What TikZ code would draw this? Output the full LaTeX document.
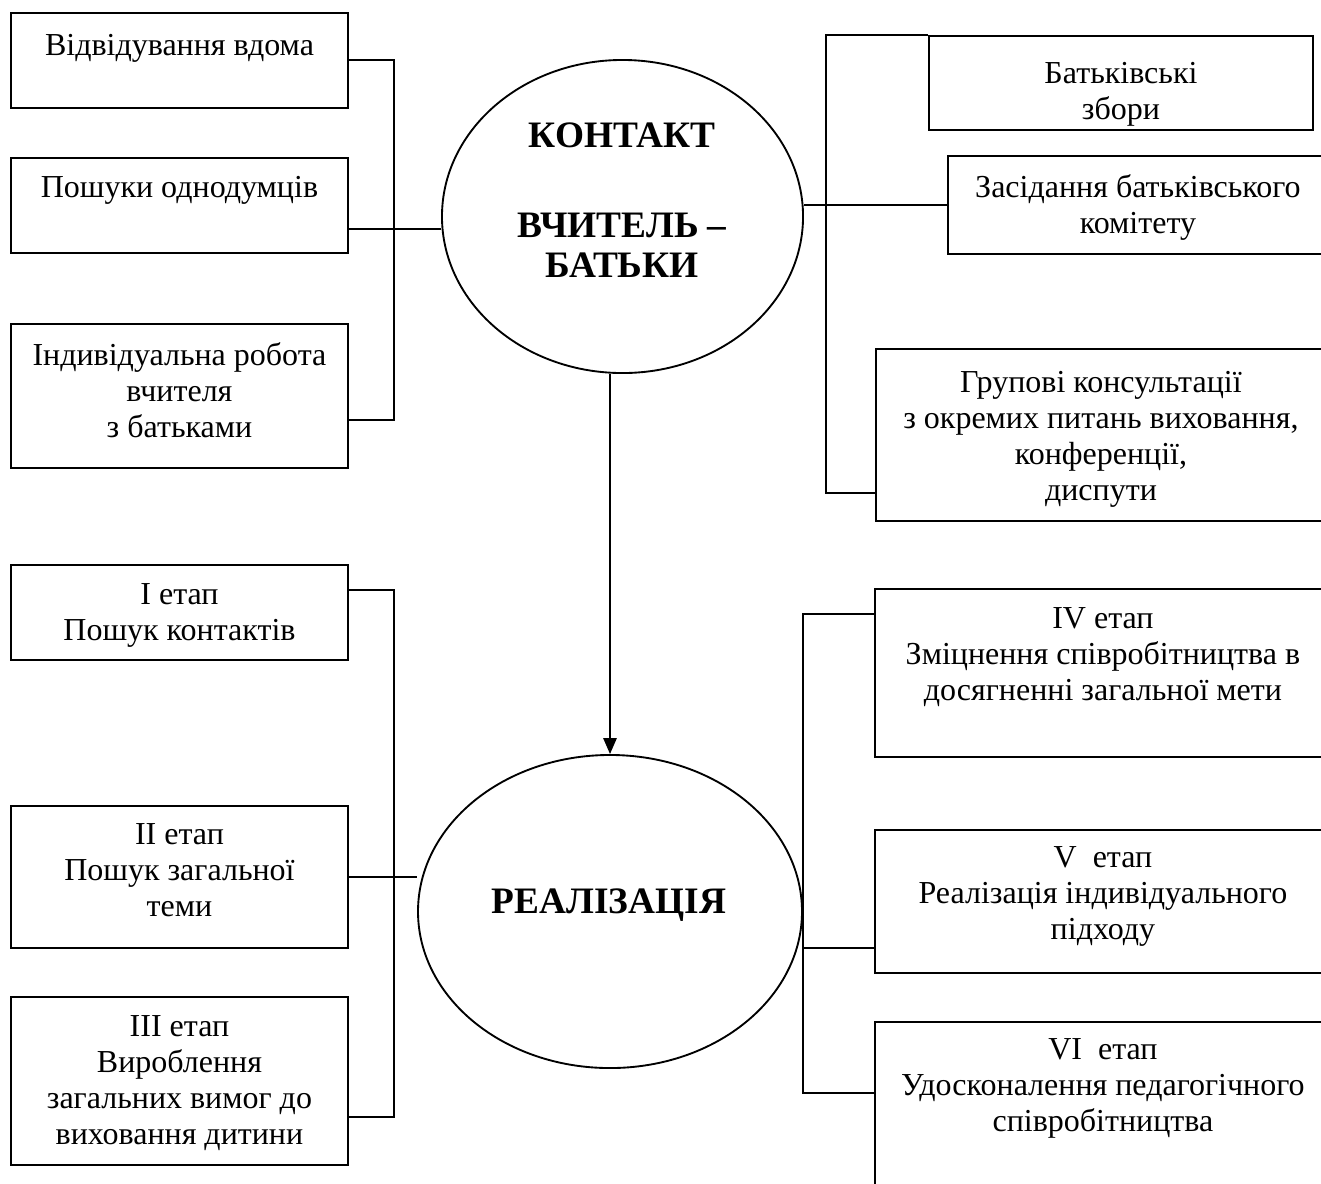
\documentclass[tikz,border=0pt]{standalone}
\usepackage{fontspec}
\setmainfont{Liberation Serif}
\usetikzlibrary{shapes.geometric,arrows.meta}

% text in a frame: top-aligned lines, first baseline at #1
\newcommand{\ramka}[4][15pt]{\parbox[c][#3][t]{#2}{\centering\rule{0pt}{#1}#4\par}}

\tikzset{
  kadr/.style={draw, line width=0.7pt, inner sep=0pt, anchor=north west,
    font=\fontsize{12}{13.5}\selectfont},
  kolo/.style={draw, ellipse, line width=0.7pt, inner sep=0pt},
  napys/.style={align=center, font=\fontsize{14}{15}\selectfont\bfseries},
  zvyazok/.style={line width=0.7pt},
  strilka/.style={line width=0.7pt, -{Triangle[length=6pt,width=5pt]}}
}

\begin{document}
\begin{tikzpicture}[x=0.375pt, y=-0.375pt]
  \path[use as bounding box, fill=white] (0,0) rectangle (1321,1183);
  \clip (0,0) rectangle (1321,1183);

  % centre
  \node[kolo, minimum width=135.4pt, minimum height=117.4pt] (kontakt) at (622.5,216.5) {};
  \node[napys] (kontakttxt) at (622,200) {КОНТАКТ\\[18.75pt]ВЧИТЕЛЬ –\\БАТЬКИ};
  \node[kolo, minimum width=144pt, minimum height=117.4pt] (realiz) at (610,911.5) {};
  \node[napys] (realiztxt) at (609,905) {РЕАЛІЗАЦІЯ};

  % forms of contact
  \node[kadr] (a) at (10,12)  {\ramka[16pt]{126.4pt}{35.6pt}{Відвідування вдома}};
  \node[kadr] (b) at (10,157) {\ramka{126.4pt}{35.6pt}{Пошуки однодумців}};
  \node[kadr] (c) at (10,323) {\ramka[15.5pt]{126.4pt}{54pt}{Індивідуальна робота\\вчителя\\з батьками}};
  \node[kadr] (d) at (928,35) {\ramka[17.75pt]{144pt}{35.25pt}{Батьківські\\збори}};
  \node[kadr] (e) at (947,155) {\ramka[15.5pt]{142.5pt}{36.75pt}{Засідання батьківського\\комітету}};
  \node[kadr] (f) at (875,348) {\ramka[16.25pt]{168.75pt}{64.5pt}{Групові консультації\\з окремих питань виховання,\\конференції,\\диспути}};

  % stages
  \node[kadr] (g) at (10,564)  {\ramka{126.4pt}{35.6pt}{I етап\\Пошук контактів}};
  \node[kadr] (h) at (10,805)  {\ramka[14.5pt]{126.4pt}{53.25pt}{II етап\\Пошук загальної\\теми}};
  \node[kadr] (i) at (10,996)  {\ramka{126.4pt}{63pt}{III етап\\Вироблення\\загальних вимог до\\виховання дитини}};
  \node[kadr] (j) at (874,588) {\ramka{171pt}{63pt}{IV етап\\Зміцнення співробітництва в\\досягненні загальної мети}};
  \node[kadr] (k) at (874,829) {\ramka[14pt]{171pt}{53.6pt}{V\ \ етап\\Реалізація індивідуального\\підходу}};
  \node[kadr] (l) at (874,1021) {\ramka[14pt]{171pt}{93.75pt}{VI\ \ етап\\Удосконалення педагогічного\\співробітництва}};

  % trunks
  \coordinate (lt) at (394,0);
  \coordinate (rt) at (826,0);
  \coordinate (rb) at (803,0);

  \coordinate (bk) at ([yshift=-8.8pt]b.east);
  \coordinate (ck) at ([yshift=-9pt]c.east);
  \coordinate (fk) at ([yshift=-21.75pt]f.west);
  \coordinate (gk) at ([yshift=8.4pt]g.east);
  \coordinate (ik) at ([yshift=-13.5pt]i.east);
  \coordinate (jk) at ([yshift=22pt]j.west);
  \coordinate (kk) at ([yshift=-17.4pt]k.west);
  \coordinate (lk) at ([yshift=-27pt]l.north west);

  \draw[zvyazok] (a.east) -- (a.east -| lt) |- (ck);
  \draw[zvyazok] (bk) -- (bk -| kontakt.west);
  \draw[zvyazok] (d.north west) -| (fk -| rt) -- (fk);
  \draw[zvyazok] (e.west -| kontakt.east) -- (e.west);

  \draw[zvyazok] (gk) -| (ik -| lt) -- (ik);
  \draw[zvyazok] (h.east) -- (h.east -| realiz.west);
  \draw[zvyazok] (jk) -| (lk -| rb) -- (lk);
  \draw[zvyazok] (kk -| rb) -- (kk);

  \draw[strilka] (realiz.north |- kontakt.south) -- (realiz.north);
\end{tikzpicture}
\end{document}
